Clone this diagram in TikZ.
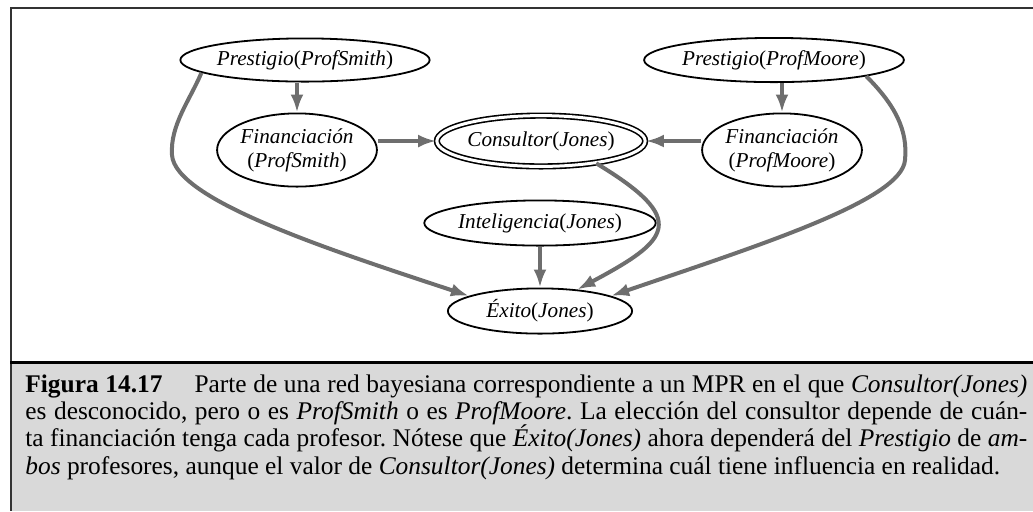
\documentclass[tikz,border=0pt]{standalone}
\usepackage{fontspec}
\setmainfont{Liberation Serif}
\newfontfamily\fuentepie[Scale=1.27]{Liberation Serif}
\newfontfamily\fuentenodo[Scale=1.06]{Liberation Serif}
\usepackage{tikz}
\usetikzlibrary{arrows.meta, shapes.geometric}
\definecolor{grisflecha}{HTML}{6E6E6E}
\definecolor{grisfondo}{HTML}{D9D9D9}

\begin{document}
\begin{tikzpicture}[
    x=0.5pt, y=-0.5pt,
    nodo/.style={ellipse, draw, line width=0.9pt, inner sep=0pt, align=center,
                 font=\fuentenodo},
    consulta/.style={nodo, double, double distance=1.5pt, line width=0.8pt},
    flecha/.style={draw=grisflecha, line width=2pt, -{Latex[length=9pt, width=6.5pt]}},
    textopie/.style={anchor=base west, inner sep=0pt, text width=501pt, align=justify,
                     font=\fuentepie}
  ]
    \useasboundingbox (0,0) rectangle (1033,511);
    % marco y fondo del pie
    \fill[grisfondo] (10,363) rectangle (1033,511);
    \draw[line width=1pt, black!80] (1033,7.5) -- (10.5,7.5) -- (10.5,511);
    \draw[line width=1.6pt] (10,362.5) -- (1033,362.5);

    \node[nodo, minimum width=100.6pt, minimum height=21.6pt] (psmith) at (305,60)
      {\textit{Prestigio}(\textit{ProfSmith})};
    \node[nodo, minimum width=103.1pt, minimum height=22.1pt] (pmoore) at (774,60)
      {\textit{Prestigio}(\textit{ProfMoore})};
    \node[nodo, minimum width=73.6pt, minimum height=36.6pt] (fsmith) at (297,150)
      {\textit{Financiación}\\(\textit{ProfSmith})};
    \node[nodo, minimum width=72.6pt, minimum height=36.6pt] (fmoore) at (782,150)
      {\textit{Financiación}\\(\textit{ProfMoore})};
    \node[consulta, minimum width=96.4pt, minimum height=25.4pt] (consultor) at (541,141)
      {\textit{Consultor}(\textit{Jones})};
    \node[nodo, minimum width=101.6pt, minimum height=22.6pt] (inteligencia) at (540,223)
      {\textit{Inteligencia}(\textit{Jones})};
    \node[nodo, minimum width=92.1pt, minimum height=22.6pt] (exito) at (540,311)
      {\textit{Éxito}(\textit{Jones})};

    \draw[flecha] (psmith.south -| fsmith.north) -- (fsmith.north);
    \draw[flecha] (pmoore.south -| fmoore.north) -- (fmoore.north);
    \draw[flecha] (fsmith.east |- consultor.west) -- (consultor.west);
    \draw[flecha] (fmoore.west |- consultor.east) -- (consultor.east);
    \draw[flecha] (inteligencia) -- (exito);
    \draw[flecha] (consultor.-22) .. controls (690,220) and (670,240) .. (exito.30);
    \draw[flecha] (psmith.187) .. controls (190,100) and (170,125) .. (172,155)
      .. controls (175,200) and (330,250) .. (exito.168);
    \draw[flecha] (pmoore.-10) .. controls (895,105) and (908,130) .. (905,160)
      .. controls (902,200) and (760,245) .. (exito.12);

    \node[textopie] (leyenda) at (25,392)
      {\baselineskip=13.7pt\tolerance=9999\relax\hyphenpenalty=10000\relax\frenchspacing
       \textbf{Figura 14.17}\hspace{1em} Parte de una red bayesiana correspondiente a un MPR en el que \textit{Consultor(Jones)}\linebreak
       es desconocido, pero o es \textit{ProfSmith} o es \textit{ProfMoore}. La elección del consultor depende de cuán-\linebreak
       ta financiación tenga cada profesor. Nótese que \textit{Éxito(Jones)} ahora dependerá del \textit{Prestigio} de \textit{am-}\linebreak
       \textit{bos} profesores, aunque el valor de \textit{Consultor(Jones)} determina cuál tiene influencia en realidad.\par};
\end{tikzpicture}
\end{document}
